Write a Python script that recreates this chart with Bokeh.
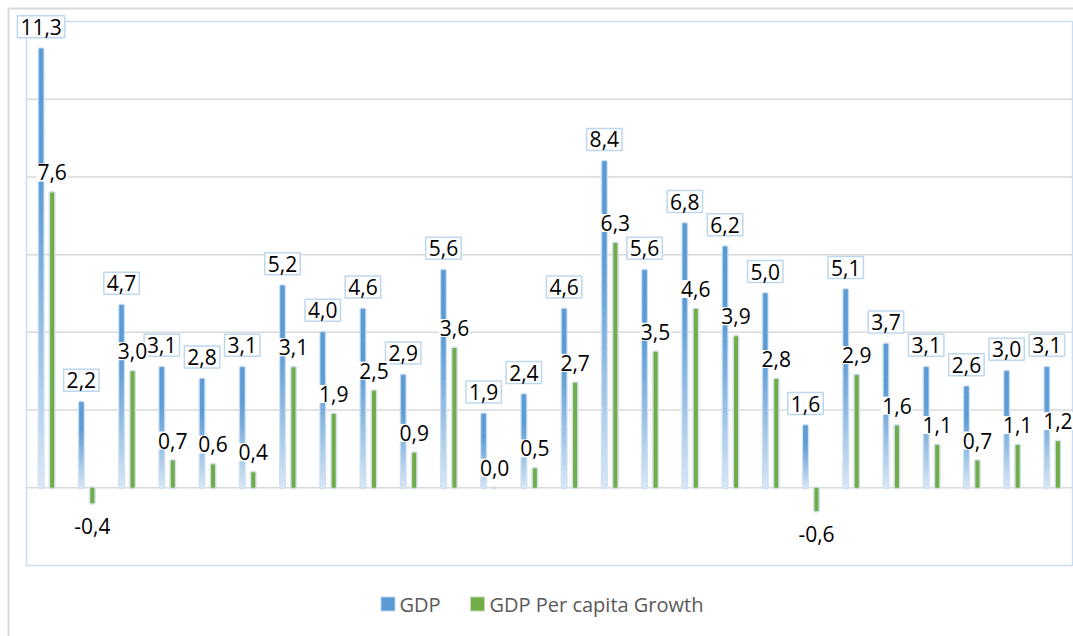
from bokeh.plotting import figure
from bokeh.models import Range1d, ColumnDataSource
from bokeh.core.properties import value
from bokeh.embed import file_html
from bokeh.resources import INLINE

# Annual growth rates (%)
gdp = [11.3, 2.2, 4.7, 3.1, 2.8, 3.1, 5.2, 4.0, 4.6, 2.9, 5.6, 1.9, 2.4,
       4.6, 8.4, 5.6, 6.8, 6.2, 5.0, 1.6, 5.1, 3.7, 3.1, 2.6, 3.0, 3.1]
per_capita = [7.6, -0.4, 3.0, 0.7, 0.6, 0.4, 3.1, 1.9, 2.5, 0.9, 3.6, 0.0, 0.5,
              2.7, 6.3, 3.5, 4.6, 3.9, 2.8, -0.6, 2.9, 1.6, 1.1, 0.7, 1.1, 1.2]
series_names = ["GDP", "GDP Per capita Growth"]
y_min, y_max, y_step = -2, 12, 2

W, H = 1073, 636
# plot area in canvas pixels
PL, PR, PT, PB = 26, 1072, 21, 565
n = len(gdp)
XS = (PR - PL) / n
YS = (PB - PT) / (y_max - y_min)


def px_x(px):
    return -0.5 + (px - PL) / XS


def px_y(py):
    return y_max - (py - PT) / YS


p = figure(width=W, height=H, x_range=Range1d(px_x(0), px_x(W)),
           y_range=Range1d(px_y(H), px_y(0)), x_axis_type=None, y_axis_type=None,
           toolbar_location=None, output_backend="svg", min_border=0,
           outline_line_color=None, background_fill_color="white",
           border_fill_color="white")

# outer chart frame (left and top edges)
p.segment(x0=[px_x(8), px_x(8)], y0=[px_y(8), px_y(8)],
          x1=[px_x(8), px_x(W + 5)], y1=[px_y(H + 5), px_y(8)],
          line_color="#D9D9D9", line_width=2)

# horizontal gridlines
grid_vals = list(range(y_min + y_step, y_max, y_step))
p.segment(x0=[-0.5] * len(grid_vals), y0=grid_vals, x1=[n - 0.5] * len(grid_vals),
          y1=grid_vals, line_color="#D9D9D9", line_width=1.5)

# plot area border
p.quad(left=[-0.5], right=[n - 0.5], bottom=[y_min], top=[y_max],
       fill_color=None, line_color="#C9DCF0", line_width=1.5)

off = 5.5 / XS
bw = 4.0 / XS
xs = list(range(n))
x_gdp = [i - off for i in xs]
x_pc = [i + off for i in xs]

# soft halo around bars
p.vbar(x=x_gdp, top=gdp, bottom=0, width=bw, fill_color="#CFE1F3",
       line_color="#CFE1F3", line_width=3)
p.vbar(x=x_pc, top=per_capita, bottom=0, width=bw, fill_color="#CFE1F3",
       line_color="#D2E0EC", line_width=3)

# GDP bars with vertical gradient (dark top, pale bottom)
dark = (0x5B, 0x9B, 0xD5)
light = (0xDA, 0xE8, 0xF6)
NSEG = 40
seg = dict(x=[], top=[], bottom=[], color=[])
for xi, v in zip(x_gdp, gdp):
    for k in range(NSEG):
        b = v * k / NSEG
        t = v * (k + 1) / NSEG
        frac = 1 - (k + 0.5) / NSEG  # 0 at top, 1 at bottom
        f = max(0.0, (frac - 0.3) / 0.7) ** 1.1
        c = tuple(round(dark[j] + (light[j] - dark[j]) * f) for j in range(3))
        seg["x"].append(xi)
        seg["bottom"].append(b)
        seg["top"].append(t)
        seg["color"].append("#%02x%02x%02x" % c)
p.vbar(x="x", top="top", bottom="bottom", width=bw, fill_color="color",
       line_color="color", line_width=0.5, source=ColumnDataSource(seg))

# per-capita bars
p.vbar(x=x_pc, top=per_capita, bottom=0, width=bw, fill_color="#70AD47",
       line_color=None)


def fmt(v):
    return f"{v:.1f}".replace(".", ",")


# GDP value labels (boxed)
p.text(x=x_gdp, y=[v + 22 / YS for v in gdp], text=[fmt(v) for v in gdp],
       text_font=value("Open Sans"), text_font_size="21px", text_color="black",
       text_align="center", text_baseline="middle",
       background_fill_color="white", border_line_color="#BDD7EE",
       border_line_width=1.5, padding=3)

# per-capita value labels
pc_y = [v + 20 / YS if v >= 0 else v - 23 / YS for v in per_capita]
p.text(x=x_pc, y=pc_y, text=[fmt(v) for v in per_capita],
       text_font=value("Open Sans"), text_font_size="21px", text_color="black",
       text_align="center", text_baseline="middle",
       background_fill_color="white", padding=1)

# legend
leg_y = px_y(603.5)
sq = 14 / XS
p.rect(x=[px_x(387.5)], y=[leg_y], width=sq, height=14 / YS,
       fill_color="#5B9BD5", line_color="#BDD7EE", line_width=1)
p.rect(x=[px_x(477)], y=[leg_y], width=sq, height=14 / YS,
       fill_color="#70AD47", line_color="#C6D9B8", line_width=1)
p.text(x=[px_x(399), px_x(489)], y=[leg_y, leg_y], text=series_names,
       text_font=value("Open Sans"), text_font_size="20px", text_color="#595959",
       text_align="left", text_baseline="middle")

open("out.html", "w").write(file_html(p, INLINE))
